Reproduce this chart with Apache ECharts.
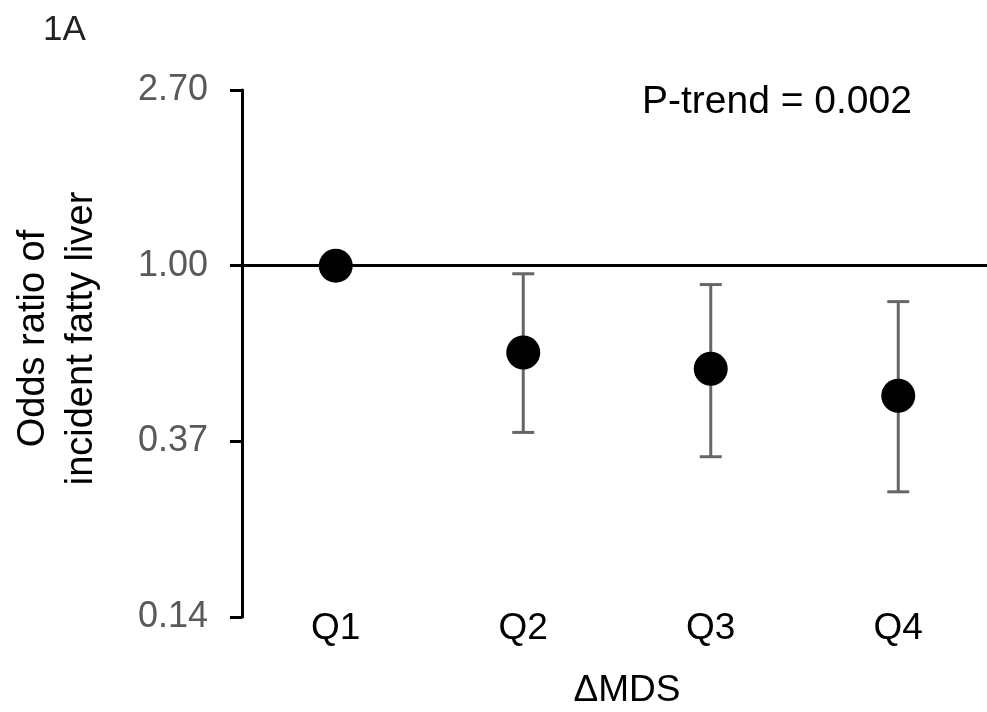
<!DOCTYPE html>
<html>
<head>
<meta charset="utf-8">
<script src="https://cdn.jsdelivr.net/npm/echarts@6/dist/echarts.min.js"></script>
<style>
  html, body { margin: 0; padding: 0; background: #fff; }
  #chart { width: 987px; height: 712px; }
</style>
</head>
<body>
<div id="chart"></div>
<script>
// quartiles of change in MDS
const categories = ["Q1", "Q2", "Q3", "Q4"];
// odds ratios and 95% CI
const oddsRatio = [1.0, 0.61, 0.556, 0.477];
const ciLower = [null, 0.387, 0.337, 0.276];
const ciUpper = [null, 0.955, 0.898, 0.815];
// y tick labels as printed (e^-2 .. e^1)
const yTickLabels = ["0.14", "0.37", "1.00", "2.70"];

const font = 'Arial, "Liberation Sans", sans-serif';

const errorData = categories
  .map((c, i) => [i, ciLower[i], ciUpper[i]])
  .filter((d) => d[1] != null);

function renderErrorBar(params, api) {
  const idx = api.value(0);
  const lo = api.coord([idx, api.value(1)]);
  const hi = api.coord([idx, api.value(2)]);
  const half = 11;
  const style = { stroke: "#666666", lineWidth: 3 };
  return {
    type: "group",
    children: [
      { type: "line", shape: { x1: lo[0], y1: lo[1], x2: hi[0], y2: hi[1] }, style },
      { type: "line", shape: { x1: hi[0] - half, y1: hi[1], x2: hi[0] + half, y2: hi[1] }, style },
      { type: "line", shape: { x1: lo[0] - half, y1: lo[1], x2: lo[0] + half, y2: lo[1] }, style },
    ],
  };
}

const chart = echarts.init(document.getElementById("chart"));
chart.setOption({
  animation: false,
  title: [
    {
      text: "1A",
      left: 38,
      top: 8,
      textStyle: { fontFamily: font, fontSize: 35, fontWeight: "normal", color: "#222" },
    },
    {
      text: "P-trend = 0.002",
      left: 637,
      top: 78,
      textStyle: { fontFamily: font, fontSize: 39, fontWeight: "normal", color: "#000" },
    },
  ],
  grid: {
    left: 242,
    right: -5,
    top: 90,
    bottom: 95,
    containLabel: false,
    outerBoundsMode: "none",
  },
  xAxis: {
    type: "category",
    data: categories,
    axisLine: { show: false },
    axisTick: { show: false },
    axisLabel: {
      margin: 12,
      verticalAlign: "middle",
      fontFamily: font,
      fontSize: 37,
      color: "#000",
    },
    name: "ΔMDS",
    nameLocation: "middle",
    nameGap: 55,
    nameTextStyle: { fontFamily: font, fontSize: 37, color: "#000", padding: [0, 0, 0, 20] },
  },
  yAxis: {
    type: "log",
    logBase: Math.E,
    min: Math.exp(-2),
    max: Math.E,
    axisLine: { show: true, lineStyle: { color: "#000", width: 3 } },
    axisTick: { show: true, length: 12, lineStyle: { color: "#000", width: 3 } },
    splitLine: { show: false },
    axisLabel: {
      margin: 34,
      fontFamily: font,
      fontSize: 36,
      color: "#595959",
      formatter: (value, index) => yTickLabels[index],
    },
    name: "Odds ratio of\nincident fatty liver",
    nameLocation: "middle",
    nameGap: 136,
    nameTextStyle: {
      fontFamily: font,
      fontSize: 38,
      lineHeight: 48,
      color: "#000",
      padding: [0, 0, 0, 30],
    },
  },
  series: [
    {
      type: "custom",
      renderItem: renderErrorBar,
      data: errorData,
      z: 2,
      silent: true,
    },
    {
      type: "scatter",
      data: oddsRatio,
      symbol: "circle",
      symbolSize: 34,
      itemStyle: { color: "#000", opacity: 1 },
      z: 3,
      markLine: {
        silent: true,
        symbol: "none",
        label: { show: false },
        lineStyle: { color: "#000", width: 3, type: "solid" },
        data: [{ yAxis: 1 }],
      },
    },
  ],
});
</script>
</body>
</html>
